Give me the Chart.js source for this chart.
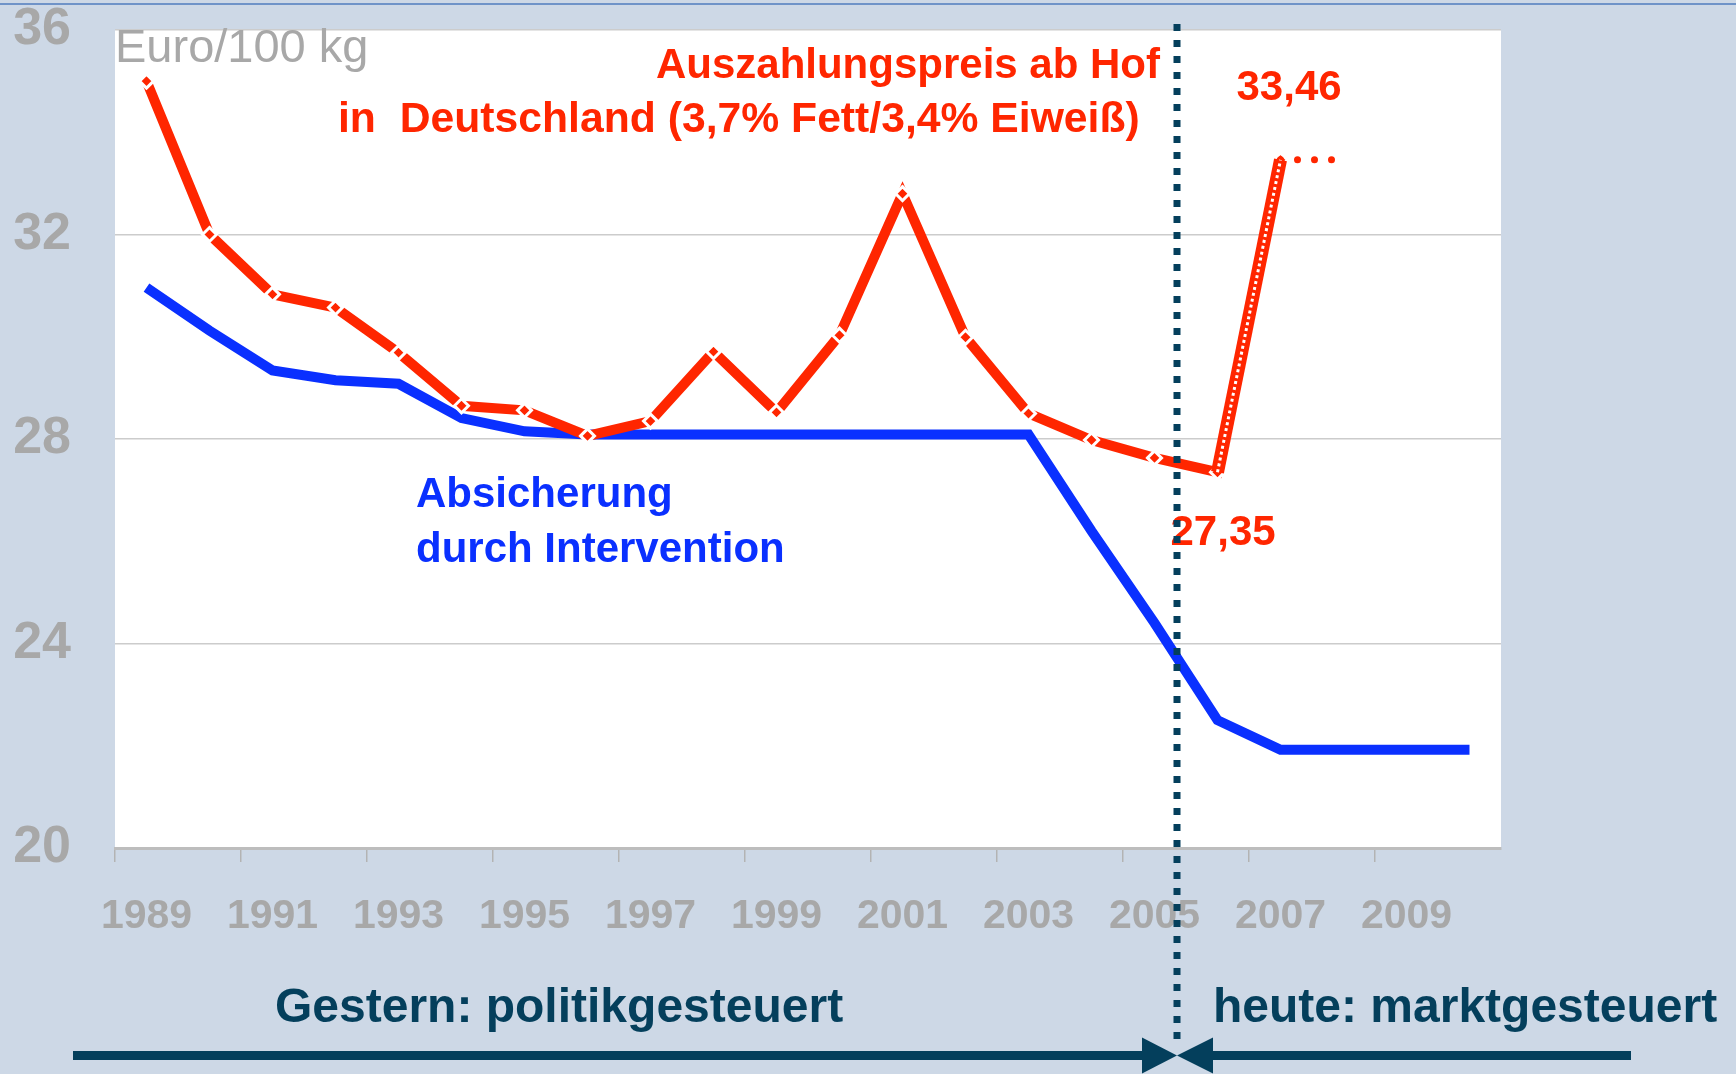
<!DOCTYPE html>
<html>
<head>
<meta charset="utf-8">
<script src="https://cdn.jsdelivr.net/npm/chart.js@4.4.1/dist/chart.umd.min.js"></script>
<style>
  html, body { margin: 0; padding: 0; background: #cdd8e6; }
  #wrap { width: 1736px; height: 1074px; position: relative; }
</style>
</head>
<body>
<div id="wrap"><canvas id="chart" width="1736" height="1074"></canvas></div>
<script>
// Daten
const years = ['1989','1990','1991','1992','1993','1994','1995','1996','1997','1998','1999',
               '2000','2001','2002','2003','2004','2005','2006','2007','2008','2009','2010'];

// Auszahlungspreis ab Hof (Euro/100 kg)
const auszahlungspreis = [35.0, 32.0, 30.83, 30.57, 29.69, 28.65, 28.56, 28.06, 28.35, 29.71, 28.52,
                          30.03, 32.8, 29.99, 28.5, 27.98, 27.63, 27.35, 33.46, null, null, null];

// Absicherung durch Intervention
const intervention = [30.96, 30.12, 29.34, 29.15, 29.08, 28.41, 28.15, 28.09, 28.09, 28.09, 28.09,
                      28.09, 28.09, 28.09, 28.09, 26.2, 24.4, 22.5, 21.92, 21.92, 21.92, 21.92];

// Sprung 2006 -> 2007 und gepunktete Fortschreibung
const sprung = [null, null, null, null, null, null, null, null, null, null, null,
                null, null, null, null, null, null, 27.35, 33.46, null, null, null];
const prognose = [null, null, null, null, null, null, null, null, null, null, null,
                  null, null, null, null, null, null, null, 33.46, 33.46, null, null];

const yMin = 20, yMax = 36, yStep = 4;

const FONT = "'Liberation Sans', Arial, Helvetica, sans-serif";
const RED = '#ff2600';
const BLUE = '#0a30ff';
const DARK = '#043f5c';
const GRAY = '#a8a8a8';

// ===== Plotfläche weiß + Beschriftungen =====
const decorPlugin = {
    id: 'decor',
    beforeDraw(chart) {
        const { ctx, chartArea: a } = chart;
        ctx.save();
        ctx.fillStyle = '#cdd8e6';
        ctx.fillRect(0, 0, chart.width, chart.height);
        ctx.fillStyle = '#ffffff';
        ctx.fillRect(a.left, a.top, a.right - a.left, a.bottom - a.top);
        // dünne Linie oben
        ctx.fillStyle = '#6f93c8';
        ctx.fillRect(0, 3, chart.width, 2);
        ctx.restore();
    },
    afterDraw(chart) {
        const { ctx, chartArea: a } = chart;
        const x = chart.scales.x, y = chart.scales.y;
        ctx.save();

        // Einheit
        ctx.fillStyle = GRAY;
        ctx.font = `47px ${FONT}`;
        ctx.textAlign = 'left';
        ctx.textBaseline = 'alphabetic';
        ctx.fillText('Euro/100 kg', a.left, 62);

        // Titel rot
        ctx.fillStyle = RED;
        ctx.font = `bold 42px ${FONT}`;
        ctx.textAlign = 'right';
        ctx.fillText('Auszahlungspreis ab Hof', 1160, 78);
        ctx.textAlign = 'left';
        ctx.font = `bold 42.7px ${FONT}`;
        ctx.fillText('in  Deutschland (3,7% Fett/3,4% Eiweiß)', 338, 132);

        // Werte
        ctx.font = `bold 42px ${FONT}`;
        ctx.fillText('33,46', x.getPixelForValue(18) - 44, y.getPixelForValue(33.46) - 60);
        ctx.fillText('27,35', x.getPixelForValue(17) - 47, y.getPixelForValue(27.35) + 73);

        // blau
        ctx.fillStyle = BLUE;
        ctx.fillText('Absicherung', 416, 507);
        ctx.fillText('durch Intervention', 416, 562);

        // senkrechte Trennlinie
        const xs = Math.round(x.getPixelForValue(16.35));
        ctx.strokeStyle = DARK;
        ctx.lineWidth = 7;
        ctx.setLineDash([7, 9]);
        ctx.beginPath();
        ctx.moveTo(xs, 24);
        ctx.lineTo(xs, 1040);
        ctx.stroke();
        ctx.setLineDash([]);

        // untere Texte
        ctx.fillStyle = DARK;
        ctx.font = `bold 48px ${FONT}`;
        ctx.fillText('Gestern: politikgesteuert', 275, 1022);
        ctx.fillText('heute: marktgesteuert', 1213, 1022);

        // Pfeile
        const ay = 1055.5;
        ctx.fillRect(73, ay - 4.5, xs - 30 - 73, 9);
        ctx.fillRect(xs + 30, ay - 4.5, 1631 - xs - 30, 9);
        ctx.beginPath();
        ctx.moveTo(xs, ay);
        ctx.lineTo(xs - 35, ay - 18);
        ctx.lineTo(xs - 35, ay + 18);
        ctx.closePath();
        ctx.fill();
        ctx.beginPath();
        ctx.moveTo(xs, ay);
        ctx.lineTo(xs + 36, ay - 18);
        ctx.lineTo(xs + 36, ay + 18);
        ctx.closePath();
        ctx.fill();

        ctx.restore();
    }
};

new Chart(document.getElementById('chart'), {
    type: 'line',
    data: {
        labels: years,
        datasets: [
            {
                label: 'sprung',
                data: sprung,
                borderColor: '#ffffff',
                borderWidth: 3,
                borderDash: [3, 3],
                pointRadius: 0,
                order: 0
            },
            {
                label: 'sprung-rand',
                data: sprung,
                borderColor: RED,
                borderWidth: 13,
                pointRadius: 0,
                order: 1
            },
            {
                label: 'prognose',
                data: prognose,
                borderColor: RED,
                borderWidth: 7,
                borderDash: [0, 17],
                borderCapStyle: 'round',
                pointRadius: 0,
                order: 1
            },
            {
                label: 'Auszahlungspreis',
                data: auszahlungspreis,
                borderColor: RED,
                borderWidth: 10,
                pointStyle: 'rectRot',
                pointRadius: 7,
                pointBackgroundColor: RED,
                pointBorderColor: '#ffffff',
                pointBorderWidth: 3,
                tension: 0,
                order: 2
            },
            {
                label: 'Intervention',
                data: intervention,
                borderColor: BLUE,
                borderWidth: 10,
                pointRadius: 0,
                tension: 0,
                order: 3
            }
        ]
    },
    options: {
        responsive: false,
        animation: false,
        layout: { padding: { top: 30, right: 235, left: 0, bottom: 0 } },
        plugins: {
            legend: { display: false },
            tooltip: { enabled: false }
        },
        scales: {
            x: {
                offset: true,
                grid: {
                    offset: true,
                    drawOnChartArea: false,
                    tickLength: 14,
                    lineWidth: 1.5,
                    color: (c) => c.index % 2 === 0 ? '#b3b3b3' : 'rgba(0,0,0,0)'
                },
                border: { color: '#bdbdbd', width: 3 },
                ticks: {
                    autoSkip: false,
                    maxRotation: 0,
                    padding: 30,
                    color: GRAY,
                    font: { family: FONT, size: 41, weight: 'bold' },
                    callback: function (v, i) { return i % 2 === 0 ? this.getLabelForValue(v) : ''; }
                },
                afterFit: (s) => { s.height = 226; s.paddingLeft = 0; s.paddingRight = 0; }
            },
            y: {
                min: yMin,
                max: yMax,
                grid: { color: '#cccccc', lineWidth: 1.5, drawTicks: false },
                border: { display: false },
                ticks: {
                    stepSize: yStep,
                    padding: 44,
                    color: GRAY,
                    font: { family: FONT, size: 52, weight: 'bold' }
                },
                afterFit: (s) => { s.width = 115; s.paddingTop = 0; s.paddingBottom = 0; }
            }
        }
    },
    plugins: [decorPlugin]
});
</script>
</body>
</html>
